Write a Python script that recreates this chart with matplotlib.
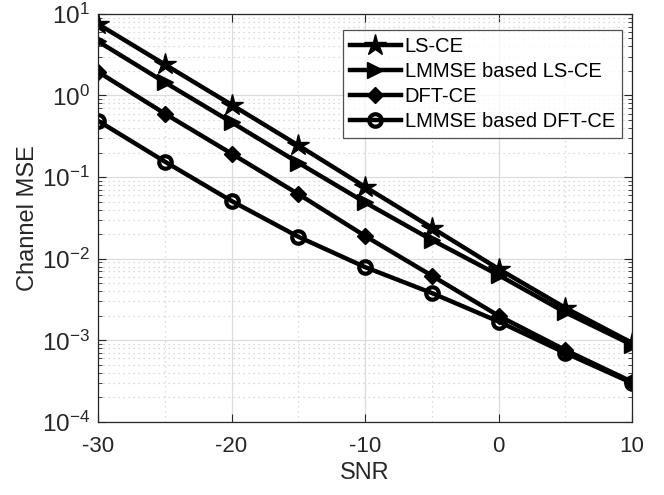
import matplotlib
matplotlib.use("Agg")
import matplotlib.pyplot as plt
from matplotlib.ticker import LogLocator, NullFormatter, FixedLocator

plt.rcParams['font.family'] = ['Liberation Sans', 'DejaVu Sans']
plt.rcParams['mathtext.fontset'] = 'custom'
plt.rcParams['mathtext.rm'] = 'Liberation Sans'
plt.rcParams['mathtext.it'] = 'Liberation Sans'
plt.rcParams['axes.unicode_minus'] = False

snr = [-30, -25, -20, -15, -10, -5, 0, 5, 10]
ls_ce = [7.5, 2.4, 0.77, 0.245, 0.076, 0.024, 0.0075, 0.0025, 0.00093]
lmmse_ls_ce = [4.6, 1.45, 0.47, 0.15, 0.049, 0.017, 0.0063, 0.0022, 0.00088]
dft_ce = [1.95, 0.6, 0.194, 0.062, 0.019, 0.0062, 0.002, 0.00076, 0.00031]
lmmse_dft_ce = [0.49, 0.155, 0.051, 0.0186, 0.0079, 0.0038, 0.0017, 0.0007, 0.0003]
labels = ['LS-CE', 'LMMSE based LS-CE', 'DFT-CE', 'LMMSE based DFT-CE']
xticks = [-30, -20, -10, 0, 10]

fig = plt.figure(figsize=(6.64, 4.95), dpi=100)
ax = fig.add_axes([0.1476, 0.1475, 0.8044, 0.8245])

lw = 3.2
ax.plot(snr, ls_ce, color='k', lw=lw, marker='*', ms=16, label=labels[0])
ax.plot(snr, lmmse_ls_ce, color='k', lw=lw, marker='>', ms=11, label=labels[1])
ax.plot(snr, dft_ce, color='k', lw=lw, marker='D', ms=8, label=labels[2])
ax.plot(snr, lmmse_dft_ce, color='k', lw=lw, marker='o', ms=9,
        markerfacecolor='none', markeredgewidth=3, label=labels[3])

ax.set_yscale('log')
ax.set_xlim(-30, 10)
ax.set_ylim(1e-4, 1e1)
ax.xaxis.set_major_locator(FixedLocator(xticks))
ax.yaxis.set_major_locator(LogLocator(base=10, numticks=10))
ax.yaxis.set_minor_locator(LogLocator(base=10, subs=range(2, 10), numticks=20))
ax.yaxis.set_minor_formatter(NullFormatter())

ax.grid(True, which='major', color='#dcdcdc', lw=0.9, ls='-')
ax.grid(True, which='minor', axis='y', color='#cfcfcf', lw=0.9, ls=(0, (1, 3)))
ax.set_xticks([-25, -15, -5, 5], minor=True)
ax.grid(True, which='minor', axis='x', color='#cfcfcf', lw=0.9, ls=(0, (1, 3)))
ax.tick_params(axis='x', which='minor', length=0)
ax.set_axisbelow(True)

ax.tick_params(which='both', direction='in', top=True, right=True,
               color='#262626', labelcolor='#262626')
ax.tick_params(axis='x', which='major', length=6, pad=10, labelsize=16)
ax.tick_params(axis='y', which='major', length=6, pad=6, labelsize=17.5)
ax.tick_params(which='minor', axis='y', length=3)
for s in ax.spines.values():
    s.set_color('#262626')
    s.set_linewidth(0.9)

ax.set_xlabel('SNR', fontsize=17, color='#262626', labelpad=4)
ax.set_ylabel('Channel MSE', fontsize=17, color='#262626', labelpad=2)

leg = ax.legend(loc='upper right', bbox_to_anchor=(0.981, 0.961), fontsize=14.5,
                frameon=True, fancybox=False, handlelength=2.5, handletextpad=0.2,
                borderpad=0.35, labelspacing=0.3, borderaxespad=0)
leg.get_frame().set_edgecolor('#262626')
leg.get_frame().set_linewidth(0.9)

fig.savefig('out.png', dpi=100)
